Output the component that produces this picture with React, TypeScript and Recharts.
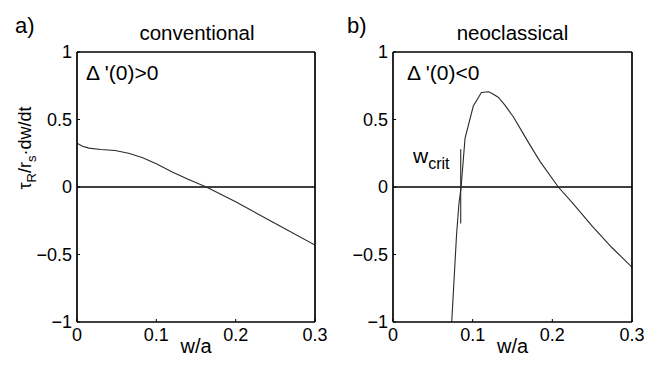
import React from 'react';
import { LineChart, Line, XAxis, YAxis, ReferenceLine, Label } from 'recharts';

const xTicks = [0, 0.1, 0.2, 0.3];
const xTickLabels = ['0', '0.1', '0.2', '0.3'];
const yTicks = [-1, -0.5, 0, 0.5, 1];
const yTickLabels = ['\u22121', '\u22120.5', '0', '0.5', '1'];

const convX = [0, 0.007, 0.015, 0.03, 0.048, 0.065, 0.082, 0.1, 0.12, 0.14, 0.163, 0.2, 0.25, 0.3];
const convY = [0.325, 0.302, 0.288, 0.278, 0.27, 0.25, 0.218, 0.172, 0.112, 0.058, 0.0, -0.11, -0.27, -0.43];

const neoX = [0.0737, 0.0798, 0.0828, 0.0855, 0.0904, 0.1008, 0.111, 0.12, 0.125, 0.132, 0.14, 0.151, 0.162, 0.172, 0.1845, 0.2075, 0.225, 0.25, 0.275, 0.3];
const neoY = [-1.0, -0.35, -0.12, 0.0, 0.36, 0.6, 0.7, 0.705, 0.69, 0.665, 0.61, 0.52, 0.41, 0.31, 0.19, 0.0, -0.115, -0.29, -0.45, -0.594];

const wcritX = [0.085, 0.085];
const wcritY = [0.28, -0.27];

const convData = convX.map((x, i) => ({ x, y: convY[i] }));
const neoData = neoX.map((x, i) => ({ x, y: neoY[i] }));
const wcritData = wcritX.map((x, i) => ({ x, y: wcritY[i] }));

const FONT = '"Liberation Sans", Arial, Helvetica, sans-serif';
const TL = 3;
const TICK_FS = 18;

const BottomTick = (props: any) => {
  const { x, y, payload } = props;
  const i = xTicks.findIndex((t) => Math.abs(t - payload.value) < 1e-9);
  return (
    <g>
      <line x1={x} y1={y} x2={x} y2={y - TL} stroke="#000" strokeWidth={1} />
      <text x={x} y={y + 19} textAnchor="middle" fontSize={TICK_FS} fontFamily={FONT} fill="#000">
        {xTickLabels[i]}
      </text>
    </g>
  );
};

const TopTick = (props: any) => {
  const { x, y } = props;
  return <line x1={x} y1={y} x2={x} y2={y + TL} stroke="#000" strokeWidth={1} />;
};

const LeftTick = (props: any) => {
  const { x, y, payload } = props;
  const i = yTicks.findIndex((t) => Math.abs(t - payload.value) < 1e-9);
  return (
    <g>
      <line x1={x} y1={y} x2={x + TL} y2={y} stroke="#000" strokeWidth={1} />
      <text x={x - 5} y={y + 6} textAnchor="end" fontSize={TICK_FS} fontFamily={FONT} fill="#000">
        {yTickLabels[i]}
      </text>
    </g>
  );
};

const RightTick = (props: any) => {
  const { x, y } = props;
  return <line x1={x} y1={y} x2={x - TL} y2={y} stroke="#000" strokeWidth={1} />;
};

const axisLine = { stroke: '#000', strokeWidth: 1.7 };

type PanelProps = {
  data: { x: number; y: number }[];
  extra?: { x: number; y: number }[];
  margin: { top: number; right: number; bottom: number; left: number };
  xLabelX: number;
  yLabel?: boolean;
};

const Panel = ({ data, extra, margin, xLabelX, yLabel }: PanelProps) => (
  <LineChart width={333} height={369} margin={margin}>
    <XAxis
      dataKey="x"
      type="number"
      domain={[0, 0.3]}
      ticks={xTicks}
      interval={0}
      allowDataOverflow
      tickSize={0}
      tickMargin={0}
      tick={<BottomTick />}
      axisLine={axisLine}
      tickLine={false}
      height={30}
    >
      <Label
        content={() => (
          <text x={xLabelX} y={353} textAnchor="middle" fontSize={20} fontFamily={FONT} fill="#000">
            w/a
          </text>
        )}
      />
    </XAxis>
    <XAxis
      xAxisId="top"
      orientation="top"
      dataKey="x"
      type="number"
      domain={[0, 0.3]}
      ticks={xTicks}
      interval={0}
      tickSize={0}
      tickMargin={0}
      tick={<TopTick />}
      axisLine={axisLine}
      tickLine={false}
      height={2}
    />
    <YAxis
      type="number"
      domain={[-1, 1]}
      ticks={yTicks}
      interval={0}
      allowDataOverflow
      tickSize={0}
      tickMargin={0}
      tick={<LeftTick />}
      axisLine={axisLine}
      tickLine={false}
      width={50}
    >
      {yLabel ? (
        <Label
          content={() => (
            <text
              transform="rotate(-90)"
              x={-148}
              y={31}
              textAnchor="middle"
              fontSize={18}
              fontFamily={FONT}
              fill="#000"
            >
              {'\u03c4'}
              <tspan dy={5} fontSize={13}>R</tspan>
              <tspan dy={-5}>/r</tspan>
              <tspan dy={5} fontSize={13}>s</tspan>
              <tspan dy={-5}>{'\u00b7dw/dt'}</tspan>
            </text>
          )}
        />
      ) : null}
    </YAxis>
    <YAxis
      yAxisId="right"
      orientation="right"
      type="number"
      domain={[-1, 1]}
      ticks={yTicks}
      interval={0}
      tickSize={0}
      tickMargin={0}
      tick={<RightTick />}
      axisLine={axisLine}
      tickLine={false}
      width={2}
    />
    <ReferenceLine y={0} stroke="#000" strokeWidth={1.3} />
    <Line
      data={data}
      dataKey="y"
      type="linear"
      stroke="#2a2a2a"
      strokeWidth={1.1}
      dot={false}
      isAnimationActive={false}
    />
    {extra ? (
      <Line
        data={extra}
        dataKey="y"
        type="linear"
        stroke="#2a2a2a"
        strokeWidth={1.1}
        dot={false}
        isAnimationActive={false}
      />
    ) : null}
  </LineChart>
);

export default function App() {
  return (
    <div
      style={{
        position: 'absolute',
        left: 0,
        top: 0,
        width: 666,
        height: 369,
        background: '#fff',
        overflow: 'hidden',
      }}
    >
      <div style={{ position: 'absolute', left: 0, top: 0 }}>
        <Panel
          data={convData}
          margin={{ top: 50, right: 16, bottom: 17, left: 27 }}
          xLabelX={196}
          yLabel
        />
      </div>
      <div style={{ position: 'absolute', left: 333, top: 0 }}>
        <Panel
          data={neoData}
          extra={wcritData}
          margin={{ top: 50, right: 32, bottom: 17, left: 10 }}
          xLabelX={179.5}
        />
      </div>
      <svg
        width={666}
        height={369}
        style={{ position: 'absolute', left: 0, top: 0, pointerEvents: 'none' }}
      >
        <g fontFamily={FONT} fill="#000">
          <text x={15} y={33} fontSize={22}>a)</text>
          <text x={347} y={33} fontSize={22}>b)</text>
          <text x={197} y={40} fontSize={20.5} textAnchor="middle">conventional</text>
          <text x={512.5} y={40} fontSize={20.5} textAnchor="middle">neoclassical</text>
          <text x={86} y={80} fontSize={21}>{"\u0394 '(0)>0"}</text>
          <text x={407} y={80} fontSize={21}>{"\u0394 '(0)<0"}</text>
          <text x={413} y={163} fontSize={21}>
            w<tspan dy={6} fontSize={16}>crit</tspan>
          </text>
        </g>
      </svg>
    </div>
  );
}
